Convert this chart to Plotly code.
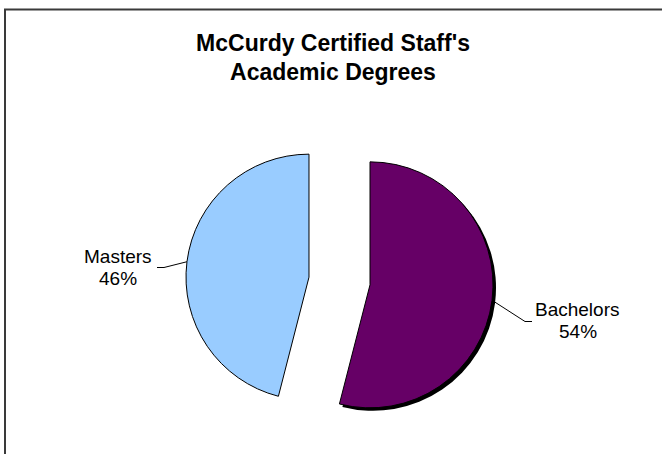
import math
import plotly.graph_objects as go

# ---- data ----
labels = ["Bachelors", "Masters"]
values = [54, 46]
colors = ["#660066", "#99CCFF"]
title_lines = ["McCurdy Certified Staff's", "Academic Degrees"]

# ---- layout geometry (pixels in a 662x454 figure) ----
W, H = 662, 454
CX, CY, R = 339.5, 281.0, 123.0
PULL = 0.25
HALF = R * (1 + PULL)
SHADOW = 3
FONT = "Liberation Sans, Arial, Helvetica, sans-serif"

# where each label's text block sits (center x, middle y) and where its leader line ends
LABEL_POS = {"Bachelors": (577.5, 320.8), "Masters": (118.0, 267.5)}
LEADER_END = {"Bachelors": (532.0, 321.5), "Masters": (157.0, 267.5)}
ELBOW = 7


def px(x):
    return x / W


def py(y):
    return 1 - y / H


def dom(dx=0.0, dy=0.0):
    return dict(x=[px(CX - HALF + dx), px(CX + HALF + dx)],
                y=[py(CY + HALF + dy), py(CY - HALF + dy)])


total = sum(values)

fig = go.Figure()
# shadow under the Bachelors slice
fig.add_trace(go.Pie(
    labels=labels, values=values, sort=False, direction="clockwise", rotation=0,
    pull=[PULL] * len(values), domain=dom(SHADOW, SHADOW),
    marker=dict(colors=["#000000", "rgba(0,0,0,0)"], line=dict(width=0)),
    textinfo="none", hoverinfo="skip", showlegend=False,
))
fig.add_trace(go.Pie(
    labels=labels, values=values, sort=False, direction="clockwise", rotation=0,
    pull=[PULL] * len(values), domain=dom(),
    marker=dict(colors=colors, line=dict(color="#000000", width=1)),
    textinfo="none", hoverinfo="label+percent", showlegend=False,
))

shapes = []
annotations = []
cum = 0
for lab, v in zip(labels, values):
    mid = (cum + v / 2) / total * 2 * math.pi
    cum += v
    dx, dy = math.sin(mid), -math.cos(mid)
    sx, sy = CX + HALF * dx, CY + HALF * dy
    ex, ey = LEADER_END[lab]
    side = 1 if ex > CX else -1
    kx = ex - side * ELBOW
    shapes.append(dict(
        type="path", xref="paper", yref="paper",
        path=f"M {px(sx)} {py(sy)} L {px(kx)} {py(ey)} L {px(ex)} {py(ey)}",
        line=dict(color="#000000", width=1),
    ))
    tx, ty = LABEL_POS[lab]
    pct = f"{round(v / total * 100)}%"
    for txt, off in ((lab, -11), (pct, 11)):
        annotations.append(dict(
            x=px(tx), y=py(ty + off), xref="paper", yref="paper",
            xanchor="center", yanchor="middle", showarrow=False, text=txt,
            font=dict(family=FONT, size=19, color="#000000"),
        ))

# chart-area frame
shapes.append(dict(type="rect", xref="paper", yref="paper",
                   x0=px(5), x1=1.05, y0=-0.05, y1=py(9.5),
                   line=dict(color="#3a3a3a", width=2), layer="below"))

fig.update_layout(
    width=W, height=H,
    margin=dict(l=0, r=0, t=0, b=0),
    paper_bgcolor="#ffffff", plot_bgcolor="#ffffff",
    title=dict(text="<br>".join(title_lines), x=px(333), xanchor="center",
               y=py(50.5), yanchor="middle",
               font=dict(family=FONT, size=23, color="#000000", weight="bold")),
    shapes=shapes, annotations=annotations,
)

fig.write_html(
    "out.html",
    config={"displayModeBar": False},
    post_script="document.body.style.margin='0';document.body.style.overflow='hidden';",
)
